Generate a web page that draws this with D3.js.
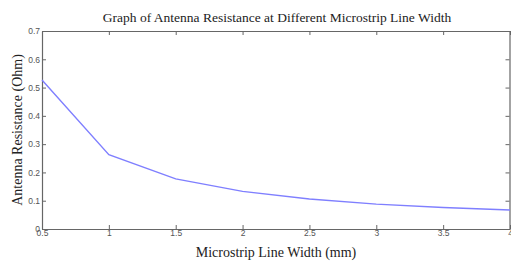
<!DOCTYPE html>
<html>
<head>
<meta charset="utf-8">
<script src="https://cdn.jsdelivr.net/npm/d3@7"></script>
<style>
  body { margin: 0; background: #fff; }
  svg { display: block; }
</style>
</head>
<body>
<div id="chart"></div>
<script>
var widths = [0.5, 1, 1.5, 2, 2.5, 3, 3.5, 4];
var resistance = [0.527, 0.263, 0.177, 0.133, 0.106, 0.088, 0.076, 0.067];
var xTicks = [0.5, 1, 1.5, 2, 2.5, 3, 3.5, 4];
var yTicks = [0, 0.1, 0.2, 0.3, 0.4, 0.5, 0.6, 0.7];

(function() {
  var width = 511;
  var height = 262;
  var margin = {top: 31, right: 1, bottom: 33, left: 42};

  var svg = d3.select('#chart')
    .append('svg')
    .attr('width', width)
    .attr('height', height);

  var x = d3.scaleLinear().domain([0.5, 4]).range([margin.left, width - margin.right]);
  var y = d3.scaleLinear().domain([0, 0.7]).range([height - margin.bottom, margin.top]);

  var axisColor = '#666';
  var fmt = function(d) { return d3.format('')(d); };

  // bottom axis, ticks pointing inward (matlab style)
  var bottom = svg.append('g')
    .attr('transform', 'translate(0,' + y(0) + ')')
    .call(d3.axisBottom(x).tickValues(xTicks).tickSizeInner(-4).tickSizeOuter(0).tickPadding(3).tickFormat(fmt));
  var top = svg.append('g')
    .attr('transform', 'translate(0,' + y(0.7) + ')')
    .call(d3.axisTop(x).tickValues(xTicks).tickSizeInner(-4).tickSizeOuter(0).tickFormat(''));
  var left = svg.append('g')
    .attr('transform', 'translate(' + x(0.5) + ',0)')
    .call(d3.axisLeft(y).tickValues(yTicks).tickSizeInner(-4).tickSizeOuter(0).tickPadding(3).tickFormat(fmt));
  var right = svg.append('g')
    .attr('transform', 'translate(' + (x(4) - 0.5) + ',0)')
    .call(d3.axisRight(y).tickValues(yTicks).tickSizeInner(-4).tickSizeOuter(0).tickFormat(''));

  [bottom, top, left, right].forEach(function(g) {
    g.select('.domain').attr('stroke', axisColor).attr('stroke-width', 1.2);
    g.selectAll('.tick line').attr('stroke', axisColor);
    g.selectAll('.tick text')
      .attr('fill', '#555')
      .style('font-family', 'Liberation Sans, Arial, sans-serif')
      .style('font-size', '8.5px');
  });

  // the corner labels overlap a bit, like the original
  bottom.selectAll('.tick text').attr('dy', '0.5em');
  left.selectAll('.tick text').attr('dx', '1px');

  var line = d3.line()
    .x(function(d, i) { return x(widths[i]); })
    .y(function(d) { return y(d); });

  svg.append('path')
    .datum(resistance)
    .attr('fill', 'none')
    .attr('stroke', '#7f7fff')
    .attr('stroke-width', 1.4)
    .attr('d', line);

  var serif = 'Liberation Serif, Times New Roman, serif';

  svg.append('text')
    .attr('x', 277)
    .attr('y', 22)
    .attr('text-anchor', 'middle')
    .style('font-family', serif)
    .style('font-size', '13.5px')
    .attr('fill', '#222')
    .text('Graph of Antenna Resistance at Different Microstrip Line Width');

  svg.append('text')
    .attr('x', 276)
    .attr('y', 257)
    .attr('text-anchor', 'middle')
    .style('font-family', serif)
    .style('font-size', '14px')
    .attr('fill', '#222')
    .text('Microstrip Line Width (mm)');

  svg.append('text')
    .attr('transform', 'translate(22,' + 130 + ') rotate(-90)')
    .attr('text-anchor', 'middle')
    .style('font-family', serif)
    .style('font-size', '14px')
    .attr('fill', '#222')
    .text('Antenna Resistance (Ohm)');
})();
</script>
</body>
</html>
